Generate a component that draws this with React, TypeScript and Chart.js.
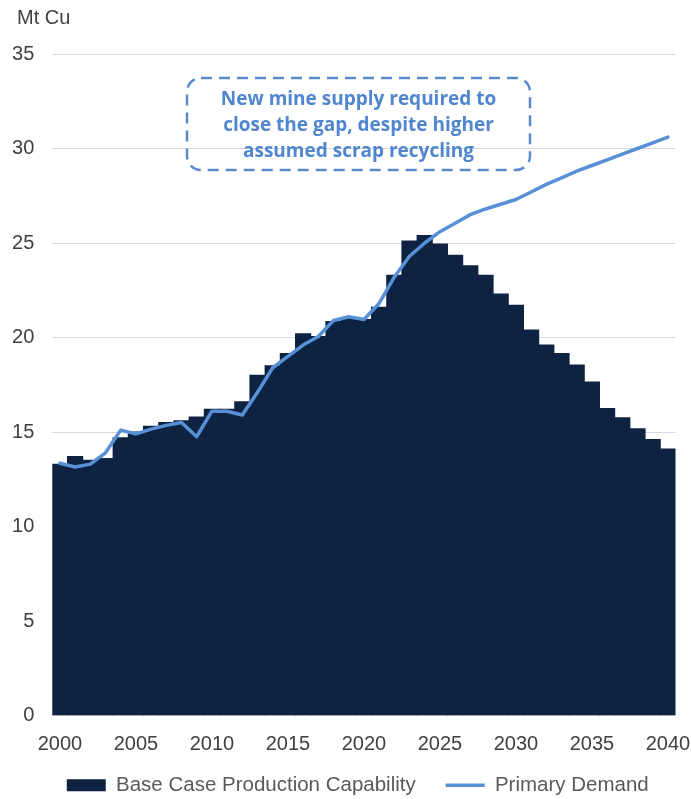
import React, { useEffect, useRef } from "react";
import { Chart, registerables } from "chart.js";

Chart.register(...registerables);

const years: string[] = [];
for (let y = 2000; y <= 2040; y++) years.push(String(y));

const productionCapability = [
  13.3, 13.7, 13.5, 13.6, 14.7, 15.0, 15.3, 15.5, 15.6, 15.8,
  16.2, 16.2, 16.6, 18.0, 18.5, 19.15, 20.2, 20.05, 20.85, 21.0,
  20.95, 21.6, 23.3, 25.1, 25.4, 24.95, 24.35, 23.8, 23.3, 22.3,
  21.7, 20.4, 19.6, 19.15, 18.55, 17.65, 16.25, 15.75, 15.17, 14.6,
  14.1,
];

const primaryDemand = [
  13.35, 13.15, 13.3, 13.9, 15.1, 14.9, 15.15, 15.35, 15.5, 14.75,
  16.1, 16.1, 15.9, 17.1, 18.4, 19.0, 19.6, 20.05, 20.9, 21.1,
  20.95, 21.8, 23.2, 24.3, 25.0, 25.6, 26.05, 26.5, 26.8, 27.05,
  27.3, 27.7, 28.1, 28.45, 28.8, 29.1, 29.4, 29.7, 30.0, 30.3,
  30.6,
];

const yTicks = [0, 5, 10, 15, 20, 25, 30, 35];
const unitLabel = "Mt Cu";
const calloutLines = [
  "New mine supply required to",
  "close the gap, despite higher",
  "assumed scrap recycling",
];
const seriesNames = ["Base Case Production Capability", "Primary Demand"];

const NAVY = "#0e2341";
const BLUE = "#5890d8";
const TEXT = "#404040";
const FONT = "'Liberation Sans', Arial, sans-serif";

const overlayPlugin = {
  id: "overlay",
  afterLayout(chart: any) {
    const L = chart.legend;
    if (L) {
      const h = L.height;
      L.top = 745;
      L.bottom = L.top + h;
      L.left += 20;
      L.right += 20;
    }
  },
  afterDraw(chart: any) {
    const ctx = chart.ctx;
    ctx.save();
    ctx.fillStyle = TEXT;
    ctx.font = "20px " + FONT;
    ctx.textAlign = "left";
    ctx.textBaseline = "middle";
    ctx.fillText(unitLabel, 17, 18);

    const bx = 187, by = 78, bw = 343, bh = 92, r = 14;
    ctx.strokeStyle = "#5a8acb";
    ctx.lineWidth = 2.5;
    ctx.setLineDash([11, 7]);
    ctx.beginPath();
    ctx.roundRect(bx, by, bw, bh, r);
    ctx.stroke();
    ctx.setLineDash([]);
    ctx.fillStyle = "#4f86cf";
    ctx.font = "bold 19px 'Open Sans', sans-serif";
    ctx.textAlign = "center";
    ctx.textBaseline = "middle";
    const cx = bx + bw / 2;
    calloutLines.forEach((line, i) => {
      ctx.fillText(line, cx, 100 + i * 26);
    });
    ctx.restore();
  },
};

export default function App() {
  const canvasRef = useRef<HTMLCanvasElement | null>(null);

  useEffect(() => {
    const canvas = canvasRef.current;
    if (!canvas) return;
    const chart = new Chart(canvas, {
      type: "bar",
      data: {
        labels: years,
        datasets: [
          {
            type: "bar",
            label: seriesNames[0],
            data: productionCapability,
            backgroundColor: NAVY,
            borderWidth: 0,
            barPercentage: 1,
            categoryPercentage: 1,
            inflateAmount: 0.5,
            order: 1,
          } as any,
          {
            type: "line",
            label: seriesNames[1],
            data: primaryDemand,
            borderColor: BLUE,
            backgroundColor: BLUE,
            borderWidth: 3.5,
            pointRadius: 0,
            tension: 0,
            borderJoinStyle: "round",
            borderCapStyle: "round",
            order: 0,
          } as any,
        ],
      },
      options: {
        responsive: false,
        animation: false,
        devicePixelRatio: 1,
        layout: { padding: { left: 0, right: 15.5, top: 54, bottom: -22 } },
        plugins: {
          tooltip: { enabled: false },
          legend: {
            position: "bottom",
            labels: {
              usePointStyle: true,
              pointStyleWidth: 39,
              boxHeight: 12,
              padding: 30,
              color: "#595959",
              font: { size: 20.5, family: FONT },
              sort: (a: any, b: any) => a.datasetIndex - b.datasetIndex,
              generateLabels: (chart: any) => {
                const items = Chart.defaults.plugins.legend.labels.generateLabels(chart);
                return items.map((it: any) => {
                  if (it.datasetIndex === 1) {
                    it.pointStyle = "line";
                    it.lineWidth = 3.5;
                    it.strokeStyle = BLUE;
                  } else {
                    it.pointStyle = "rect";
                    it.lineWidth = 0;
                  }
                  return it;
                });
              },
            },
          },
        },
        scales: {
          x: {
            offset: true,
            grid: { display: false, drawTicks: false },
            border: { display: false },
            ticks: {
              autoSkip: false,
              maxRotation: 0,
              padding: 17,
              color: TEXT,
              font: { size: 20, family: FONT },
              callback: (_v: any, i: number) => (Number(years[i]) % 5 === 0 ? years[i] : ""),
            },
            afterFit: (s: any) => {
              s.height = 45;
              s.paddingLeft = 0;
              s.paddingRight = 0;
            },
          },
          y: {
            min: 0,
            max: 35,
            afterBuildTicks: (s: any) => {
              s.ticks = yTicks.map((v) => ({ value: v }));
            },
            grid: { color: "#d9d9d9", lineWidth: 1, drawTicks: false },
            border: { display: false },
            ticks: {
              padding: 18,
              color: TEXT,
              font: { size: 20, family: FONT },
            },
            afterFit: (s: any) => {
              s.width = 52.3;
            },
          },
        },
      },
      plugins: [overlayPlugin],
    });
    return () => chart.destroy();
  }, []);

  return (
    <div style={{ position: "absolute", left: 0, top: 0, width: 691, height: 799, background: "#fff" }}>
      <canvas ref={canvasRef} width={691} height={799} />
    </div>
  );
}
